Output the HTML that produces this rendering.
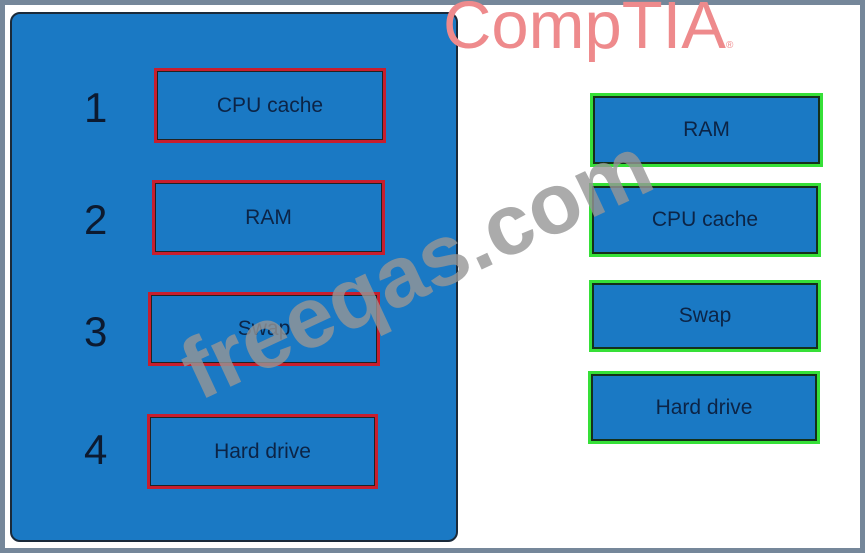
<!DOCTYPE html>
<html><head><style>
body{margin:0;width:865px;height:553px;overflow:hidden;background:#fff;font-family:"Liberation Sans",sans-serif;}
.frame{position:absolute;left:0;top:0;width:855px;height:543px;border:5px solid #75879a;background:#fff;}
.panel{position:absolute;left:10px;top:12px;width:444px;height:526px;background:#1a79c4;border:2px solid #1a2a3a;border-radius:10px;}
.b{position:absolute;box-sizing:border-box;background:#1a79c4;display:flex;align-items:center;justify-content:center;color:#0c2446;font-size:21px;}
.r{border:3px solid #c81e2e;box-shadow:inset 0 0 0 1px #222;}
.g{border:3px solid #36e038;box-shadow:inset 0 0 0 2px #15301a;}
.n{position:absolute;font-size:42px;color:#0c1a30;}
.logo{position:absolute;left:443px;top:-13px;font-size:67px;color:#ee8a8c;letter-spacing:0px;}
.wm{position:absolute;font-size:86px;font-weight:bold;color:rgba(150,150,150,0.8);transform:rotate(-25deg);transform-origin:left bottom;white-space:nowrap;line-height:1;}
</style></head><body>
<div class="frame"></div>
<div class="panel"></div>
<div class="logo">CompTIA<span style="font-size:10px">®</span></div>
<div class="n" style="left:84px;top:84px">1</div>
<div class="n" style="left:84px;top:196px">2</div>
<div class="n" style="left:84px;top:308px">3</div>
<div class="n" style="left:84px;top:426px">4</div>
<div class="b r" style="left:154px;top:68px;width:232px;height:75px">CPU cache</div>
<div class="b r" style="left:152px;top:180px;width:233px;height:75px">RAM</div>
<div class="b r" style="left:148px;top:292px;width:232px;height:74px">Swap</div>
<div class="b r" style="left:147px;top:414px;width:231px;height:75px">Hard drive</div>
<div class="b g" style="left:590px;top:93px;width:233px;height:74px">RAM</div>
<div class="b g" style="left:589px;top:183px;width:232px;height:74px">CPU cache</div>
<div class="b g" style="left:589px;top:280px;width:232px;height:72px">Swap</div>
<div class="b g" style="left:588px;top:371px;width:232px;height:73px">Hard drive</div>
<div class="wm" style="left:205px;top:328px">freeqas.com</div>
</body></html>
